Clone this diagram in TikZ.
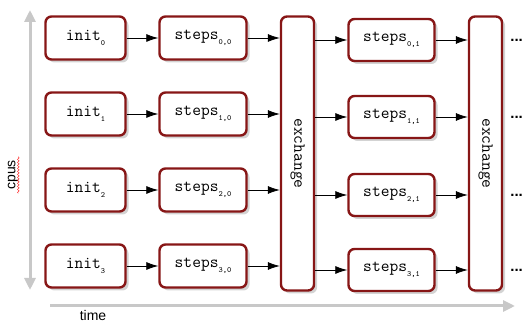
\documentclass[tikz,border=0pt]{standalone}
\usepackage{fontspec}
\setmainfont{Liberation Sans}
\usetikzlibrary{arrows.meta,shadows,decorations.pathmorphing}
\definecolor{boxred}{RGB}{135,22,22}
\definecolor{axisgray}{RGB}{200,200,200}
\newcommand{\idx}[1]{\raisebox{-4.5pt}{\fontsize{8}{8}\selectfont#1}}
\tikzset{
  task/.style={draw=boxred, line width=2.4pt, rounded corners=6pt, fill=white,
    inner sep=0pt, font=\ttfamily\fontsize{17}{17}\selectfont,
    drop shadow={shadow xshift=3pt, shadow yshift=-3pt, opacity=0.35}},
  flow/.style={-{Latex[length=12pt,width=8pt]}, thick},
  axis/.style={axisgray, line width=3pt},
}
\begin{document}
\begin{tikzpicture}[x=1pt,y=1pt]
      \useasboundingbox (0,0) rectangle (530,323);

      % Draw the cpus and time axes
      \draw[axis, {Triangle[length=12pt,width=11pt]}-{Triangle[length=12pt,width=11pt]}] (30,33) -- (30,313);
      \draw[axis, -{Triangle[length=12pt,width=11pt]}] (50,17) -- (515,17);
      \node[rotate=90, font=\fontsize{14}{14}\selectfont] (cpus) at (13,148) {cpus};
      \node[font=\fontsize{14}{14}\selectfont] (time) at (93,8) {time};
      \draw[red, decorate, decoration={snake, amplitude=0.8pt, segment length=3pt}]
          ([xshift=3pt]cpus.base west) -- ([xshift=3pt]cpus.base east);

      % First column: init and steps
      \foreach \r/\y in {0/285, 1/209, 2/133, 3/57} {
          \node[task, minimum width=80pt, minimum height=43pt] (init\r) at (85.5,\y) {init\idx{\r}};
          \node[task, minimum width=87pt, minimum height=43pt] (stepsA\r) at (203,\y) {steps\idx{\r,0}};
      }

      % Exchange blocks
      \node[task, minimum width=33pt, minimum height=274pt] (exchA) at (297.5,169.5) {\rotatebox{-90}{exchange}};
      \node[task, minimum width=33pt, minimum height=274pt] (exchB) at (485.5,169.5) {\rotatebox{-90}{exchange}};

      % Second column of steps
      \foreach \r/\y in {0/283, 1/206, 2/128, 3/53} {
          \node[task, minimum width=86pt, minimum height=42pt] (stepsB\r) at (391.5,\y) {steps\idx{\r,1}};
      }

      % Arrows between the blocks
      \foreach \r in {0,...,3} {
          \draw[flow] (init\r) -- (stepsA\r);
          \draw[flow] (stepsA\r.east) -- (stepsA\r.east -| exchA.west);
          \draw[flow] (stepsB\r.west -| exchA.east) -- (stepsB\r.west);
          \draw[flow] (stepsB\r.east) -- (stepsB\r.east -| exchB.west);
          \node[anchor=west, inner sep=0pt, font=\bfseries\fontsize{15}{15}\selectfont] (more\r)
              at ([xshift=7pt]exchB.east |- stepsB\r.east) {...};
      }
    \end{tikzpicture}
\end{document}
